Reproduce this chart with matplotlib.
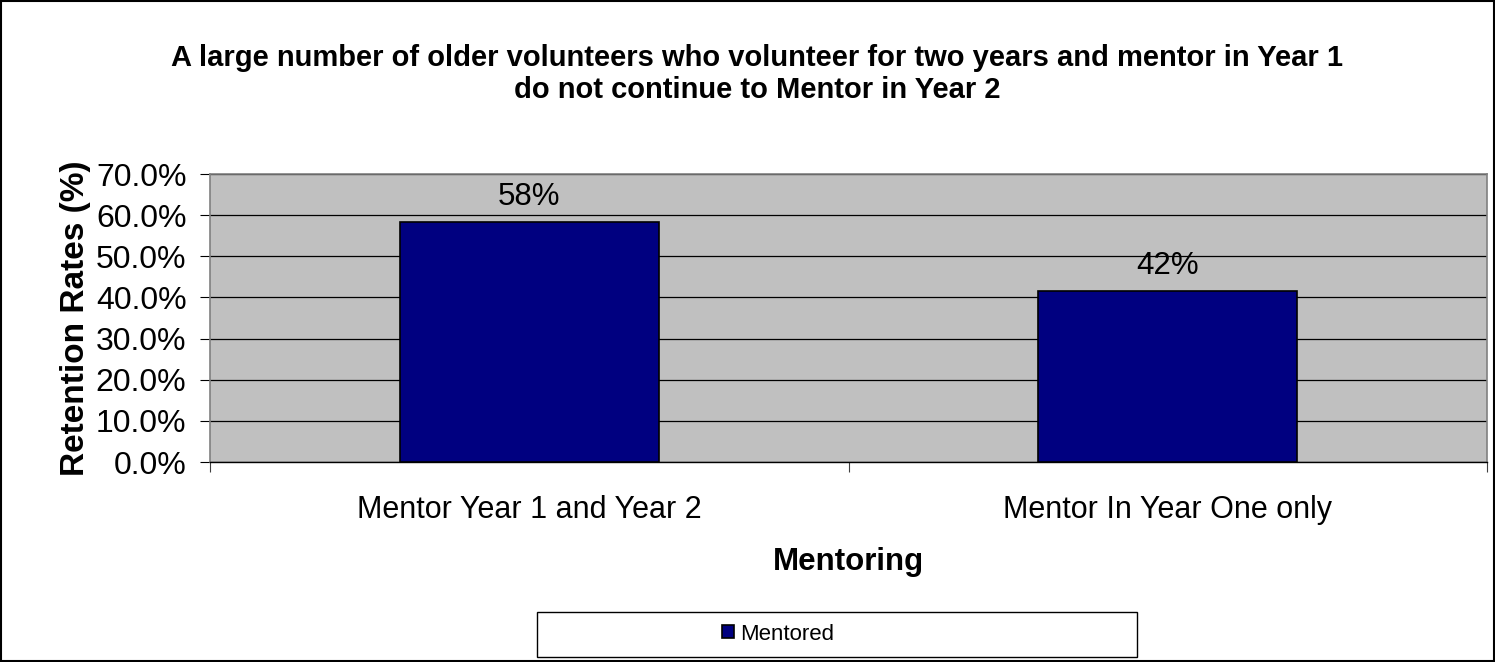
import matplotlib.pyplot as plt
from matplotlib.patches import Rectangle
from matplotlib.ticker import FuncFormatter, FixedLocator

plt.rcParams['font.family'] = ['Liberation Sans', 'DejaVu Sans']

# retention by mentoring group
categories = ['Mentor Year 1 and Year 2', 'Mentor In Year One only']
retention = [0.584, 0.416]
series_name = 'Mentored'
title = ('A large number of older volunteers who volunteer for two years and mentor in Year 1\n'
         'do not continue to Mentor in Year 2')

W, H = 1495, 662
fig = plt.figure(figsize=(W / 100, H / 100), dpi=100)
ax = fig.add_axes([210 / W, 1 - 462 / H, (1487 - 210) / W, (462 - 174) / H])

ax.set_facecolor('#C0C0C0')
x = list(range(len(categories)))
bars = ax.bar(x, retention, width=0.405, color='#000080', edgecolor='black',
              linewidth=1.2, zorder=3, label=series_name)

for b, v in zip(bars, retention):
    ax.annotate(f'{v:.0%}', (b.get_x() + b.get_width() / 2, v),
                xytext=(0, 7), textcoords='offset points',
                ha='center', va='bottom', fontsize=22.5)

ax.set_xlim(-0.5, len(categories) - 0.5)
ax.set_ylim(0, 0.7)
ax.set_yticks([i / 10 for i in range(8)])
ax.yaxis.set_major_formatter(FuncFormatter(lambda v, p: f'{v * 100:.1f}%'))
ax.grid(axis='y', color='black', linewidth=0.9, zorder=1)

ax.set_xticks(x)
ax.set_xticklabels(categories, fontsize=22)
ax.xaxis.set_minor_locator(FixedLocator([i - 0.5 for i in range(len(categories) + 1)]))
ax.tick_params(axis='x', which='major', length=0, pad=24)
ax.tick_params(axis='x', which='minor', length=7, width=0.8, color='#404040')
ax.tick_params(axis='y', length=7, width=0.8, labelsize=23, pad=10)

for side in ['top', 'right', 'left']:
    ax.spines[side].set_color('#808080')
    ax.spines[side].set_linewidth(1.2)
ax.spines['bottom'].set_color('black')
ax.spines['bottom'].set_linewidth(1.0)

ax.set_xlabel('Mentoring', fontsize=22.5, fontweight='bold')
ax.set_ylabel('Retention Rates (%)', fontsize=24, fontweight='bold')
ax.xaxis.set_label_coords(0.5, -(562 - 462) / (462 - 174))
ax.yaxis.set_label_coords(-(210 - 76) / (1487 - 210), 0.5)
ax.xaxis.label.set_va('center')
ax.yaxis.label.set_va('center')

fig.text(757 / W, 1 - 74 / H, title, ha='center', va='center', fontsize=21,
         fontweight='bold', linespacing=1.2)

# legend box
fig.patches.append(Rectangle((537 / W, 1 - 657 / H), 600 / W, 45 / H,
                             transform=fig.transFigure, facecolor='white',
                             edgecolor='black', linewidth=1.0))
fig.legend(handles=[bars], labels=[series_name], loc='center',
           bbox_to_anchor=(778 / W, 1 - 634 / H), frameon=False, fontsize=16,
           handlelength=0.55, handleheight=0.55, handletextpad=0.3)

# outer chart border
fig.patches.append(Rectangle((0.0007, 0.0015), 0.9986, 0.997, transform=fig.transFigure,
                             fill=False, edgecolor='black', linewidth=1.5))

fig.savefig('out.png', dpi=100)
